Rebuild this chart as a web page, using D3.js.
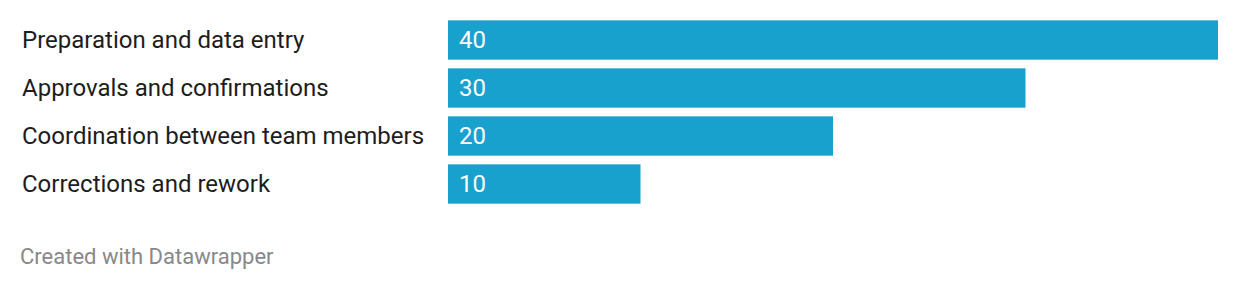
<!DOCTYPE html>
<meta charset="utf-8">
<style>
    body { margin: 0; background: #fff; }
    text { font-family: Roboto, sans-serif; }
    .label { font-size: 24px; fill: #1d1d1d; }
    .value { font-size: 24px; fill: #fff; }
    .credit { font-size: 22px; fill: #888; }
</style>
<svg width="1240" height="290"></svg>
<script src="https://d3js.org/d3.v7.min.js"></script>
<script>
    var categories = [
        "Preparation and data entry",
        "Approvals and confirmations",
        "Coordination between team members",
        "Corrections and rework"
    ];
    var values = [40, 30, 20, 10];

    var svg = d3.select("svg");

    var x = d3.scaleLinear()
        .domain([0, 40])
        .range([448, 1218]);

    var y = d3.scaleBand()
        .domain(categories)
        .range([16, 208])
        .paddingInner(0.18)
        .paddingOuter(0.09);

    var rows = svg.append("g")
        .selectAll("g")
        .data(categories)
        .enter().append("g");

    rows.append("rect")
        .attr("x", x(0))
        .attr("y", function(d) { return y(d); })
        .attr("width", function(d, i) { return x(values[i]) - x(0); })
        .attr("height", y.bandwidth())
        .attr("fill", "#18a1cd");

    rows.append("text")
        .attr("class", "label")
        .attr("x", 22)
        .attr("y", function(d) { return y(d) + y.bandwidth() / 2; })
        .attr("dy", "0.35em")
        .text(function(d) { return d; });

    rows.append("text")
        .attr("class", "value")
        .attr("x", x(0) + 11)
        .attr("y", function(d) { return y(d) + y.bandwidth() / 2; })
        .attr("dy", "0.35em")
        .text(function(d, i) { return values[i]; });

    svg.append("text")
        .attr("class", "credit")
        .attr("x", 20)
        .attr("y", 264)
        .text("Created with Datawrapper");
</script>
